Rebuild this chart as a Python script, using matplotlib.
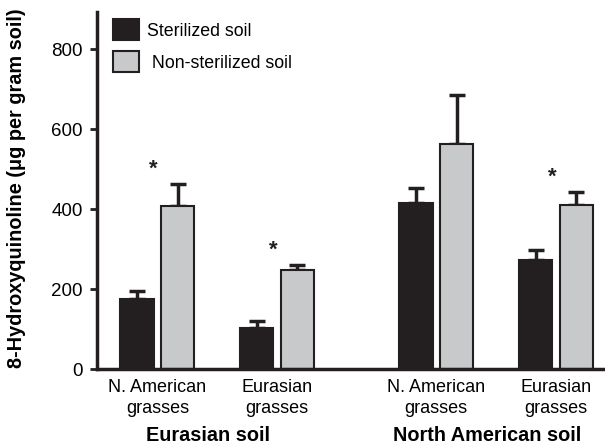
import numpy as np
import matplotlib.pyplot as plt
from matplotlib.patches import Patch

plt.rcParams['font.family'] = ['Liberation Sans', 'DejaVu Sans']

# 8-hydroxyquinoline recovered from soil (ug per gram soil), mean and SE
groups = ["N. American\ngrasses", "Eurasian\ngrasses", "N. American\ngrasses", "Eurasian\ngrasses"]
soil_labels = ["Eurasian soil", "North American soil"]
sterilized = [176, 103, 416, 272]
sterilized_se = [20, 16, 36, 25]
non_sterilized = [408, 248, 563, 409]
non_sterilized_se = [54, 11, 122, 33]
significant = [True, True, False, True]

BLACK = "#231f20"
GRAY = "#c8c9cb"

pos = np.array([0, 1, 2.33, 3.33])
w = 0.28
off = 0.17

fig = plt.figure(figsize=(6.05, 4.46), dpi=100)
ax = fig.add_axes([0.160, 0.1726, 0.84, 0.80])

ax.bar(pos - off, sterilized, w, color=BLACK, edgecolor=BLACK, linewidth=1.5, zorder=2)
ax.bar(pos + off, non_sterilized, w, color=GRAY, edgecolor=BLACK, linewidth=1.5, zorder=2)

# upper error bars only
ax.errorbar(pos - off, sterilized, yerr=[np.zeros(4), sterilized_se], fmt="none",
            ecolor=BLACK, elinewidth=2.5, capsize=6, capthick=2.5, zorder=1)
ax.errorbar(pos + off, non_sterilized, yerr=[np.zeros(4), non_sterilized_se], fmt="none",
            ecolor=BLACK, elinewidth=2.5, capsize=6, capthick=2.5, zorder=1)

for p, v, e, sig in zip(pos, non_sterilized, non_sterilized_se, significant):
    if sig:
        ax.text(p + off - 0.2, v + e + 12, "*", ha="center", va="bottom",
                fontsize=16, fontweight="bold", color=BLACK)

ax.set_xlim(-0.506, 3.74)
ax.set_ylim(0, 892)
ax.set_yticks([0, 200, 400, 600, 800])
ax.tick_params(axis="y", labelsize=13.5, width=2, length=5, color=BLACK, pad=5)
ax.set_xticks(pos)
ax.set_xticklabels(groups, fontsize=13, linespacing=1.3)
ax.tick_params(axis="x", length=0, pad=7)

for s in ["top", "right"]:
    ax.spines[s].set_visible(False)
for s in ["left", "bottom"]:
    ax.spines[s].set_linewidth(2.5)
    ax.spines[s].set_color(BLACK)

ax.set_ylabel("8-Hydroxyquinoline (\u03bcg per gram soil)", fontsize=14.3,
              fontweight="bold")
ax.yaxis.set_label_coords(-0.140, 0.508)

for lbl, center in zip(soil_labels, [pos[:2].mean(), pos[2:].mean()]):
    ax.text(center - 0.076, -0.201, lbl, transform=ax.get_xaxis_transform(),
            ha="center", va="baseline", fontsize=14.3, fontweight="bold")

handles = [Patch(facecolor=BLACK, edgecolor=BLACK, linewidth=1.5),
           Patch(facecolor=GRAY, edgecolor=BLACK, linewidth=1.5)]
ax.legend(handles, ["Sterilized soil", " Non-sterilized soil"], loc="upper left",
          bbox_to_anchor=(0.0, 1.025), frameon=False, fontsize=12.8,
          handlelength=1.45, handleheight=1.45, handletextpad=0.5, labelspacing=0.6)

fig.savefig("out.png", dpi=100)
